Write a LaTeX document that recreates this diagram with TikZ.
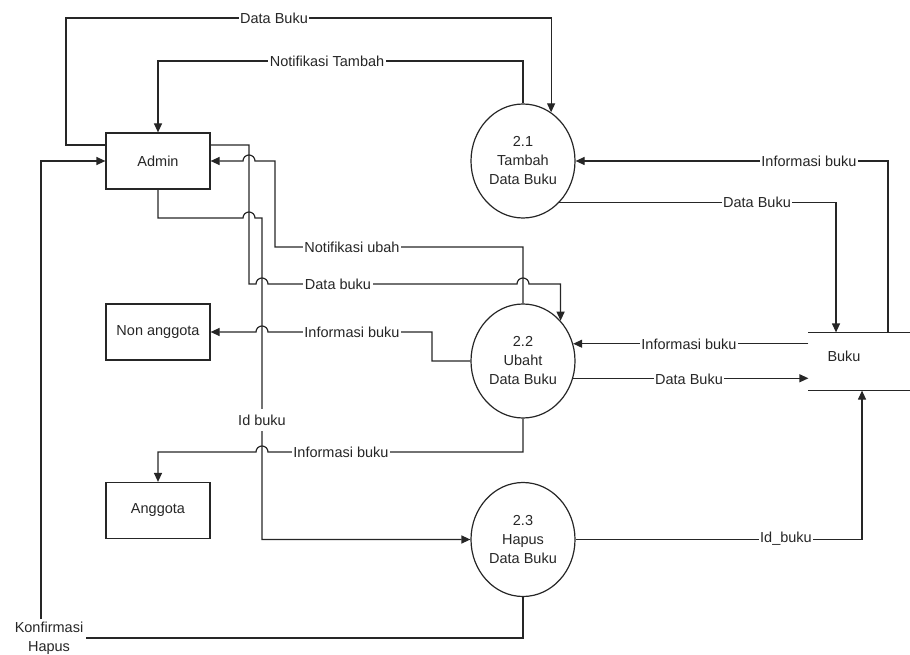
\documentclass[tikz,border=0pt]{standalone}
\usepackage{fontspec}
\setmainfont{Liberation Sans}
\usetikzlibrary{shapes.geometric,arrows.meta}

\tikzset{
  entitas/.style={draw,minimum width=104pt,minimum height=56pt},
  proses/.style={draw,ellipse,minimum width=104pt,minimum height=114pt,inner sep=0pt,align=center},
  alur/.style={-{Triangle[length=9pt,width=8pt]}},
  ket/.style={fill=white,inner sep=1.5pt}
}

\begin{document}
\begin{tikzpicture}[x=1pt,y=-1pt,line width=1.2pt,color=black!85,font=\fontsize{14.5}{19}\selectfont]
   \useasboundingbox (0,0) rectangle (910,655);

   \node[entitas] (admin) at (158,161) {Admin};
   \node[entitas] (nonanggota) at (158,332) {Non anggota};
   \node[entitas] (anggota) at (158,510.5) {Anggota};

   \node[proses] (p21) at (523,161) {2.1\\Tambah\\Data Buku};
   \node[proses] (p22) at (523,361) {2.2\\Ubaht\\Data Buku};
   \node[proses] (p23) at (523,539.5) {2.3\\Hapus\\Data Buku};

   \node[minimum width=101pt,minimum height=57pt,text width=64pt,text depth=10pt,align=left,inner sep=0pt] (buku) at (859.5,361.5) {Buku};
   \draw (buku.north west) -- (buku.north east)
   (buku.south west) -- (buku.south east);

   \node[align=center,inner sep=2pt] (kh) at (49,638) {Konfirmasi\\Hapus};
   %%%%%%%%%%
   \draw[alur] ([yshift=16pt]admin.west) -| (66,18) -| (p21.60);
   \draw[alur] (p21.north) |- (158,61) -- (admin.north);

   \draw[alur] ([yshift=16pt]admin.east) -| (249,284) -- (256,284)
   arc[start angle=180,end angle=0,radius=6pt] -- (517,284)
   arc[start angle=180,end angle=0,radius=6pt] -| (p22.47);
   \draw[alur] (p22.north) |- (275,247) -- (275,161) -- (255,161)
   arc[start angle=0,end angle=180,radius=6pt] -- (admin.east);

   \draw[alur] (admin.south) |- (243,218)
   arc[start angle=180,end angle=0,radius=6pt] -- (262,218) |- (p23.west);
   \draw (p23.south) |- (kh.east);
   \draw[alur] ([xshift=-8pt]kh.north) |- (admin.west);
   %%%%%%%%%%
   \draw[alur] (p22.west) -| (432,332) -- (268,332)
   arc[start angle=0,end angle=180,radius=6pt] -- (nonanggota.east);
   \draw[alur] (p22.south) |- (268,452)
   arc[start angle=0,end angle=180,radius=6pt] -| (anggota.north);
   %%%%%%%%%%
   \draw[alur] ([xshift=28.5pt]buku.north) |- (p21.east);
   \draw[alur] (p21.-49) -| ([xshift=-23.5pt]buku.north);
   \draw[alur] (buku.west |- p22.19) -- (p22.19);
   \draw[alur] (p22.-19) -- (p22.-19 -| buku.west);
   \draw[alur] (p23.east) -| ([xshift=2.5pt]buku.south);
   %%%%%%%%%%
   \node[ket] (l1) at (274,18) {Data Buku};
   \node[ket] (l2) at (327,61) {Notifikasi Tambah};
   \node[ket] (l3) at (352,247) {Notifikasi ubah};
   \node[ket] (l4) at (338,284) {Data buku};
   \node[ket] (l5) at (352,332) {Informasi buku};
   \node[ket,inner ysep=6pt] (l6) at (262,420) {Id buku};
   \node[ket] (l7) at (341,452) {Informasi buku};
   \node[ket] (l8) at (809,161) {Informasi buku};
   \node[ket] (l9) at (757,202) {Data Buku};
   \node[ket] (l10) at (689,344) {Informasi buku};
   \node[ket] (l11) at (689,379) {Data Buku};
   \node[ket] (l12) at (786,539) {Id\_buku};
 \end{tikzpicture}
\end{document}
